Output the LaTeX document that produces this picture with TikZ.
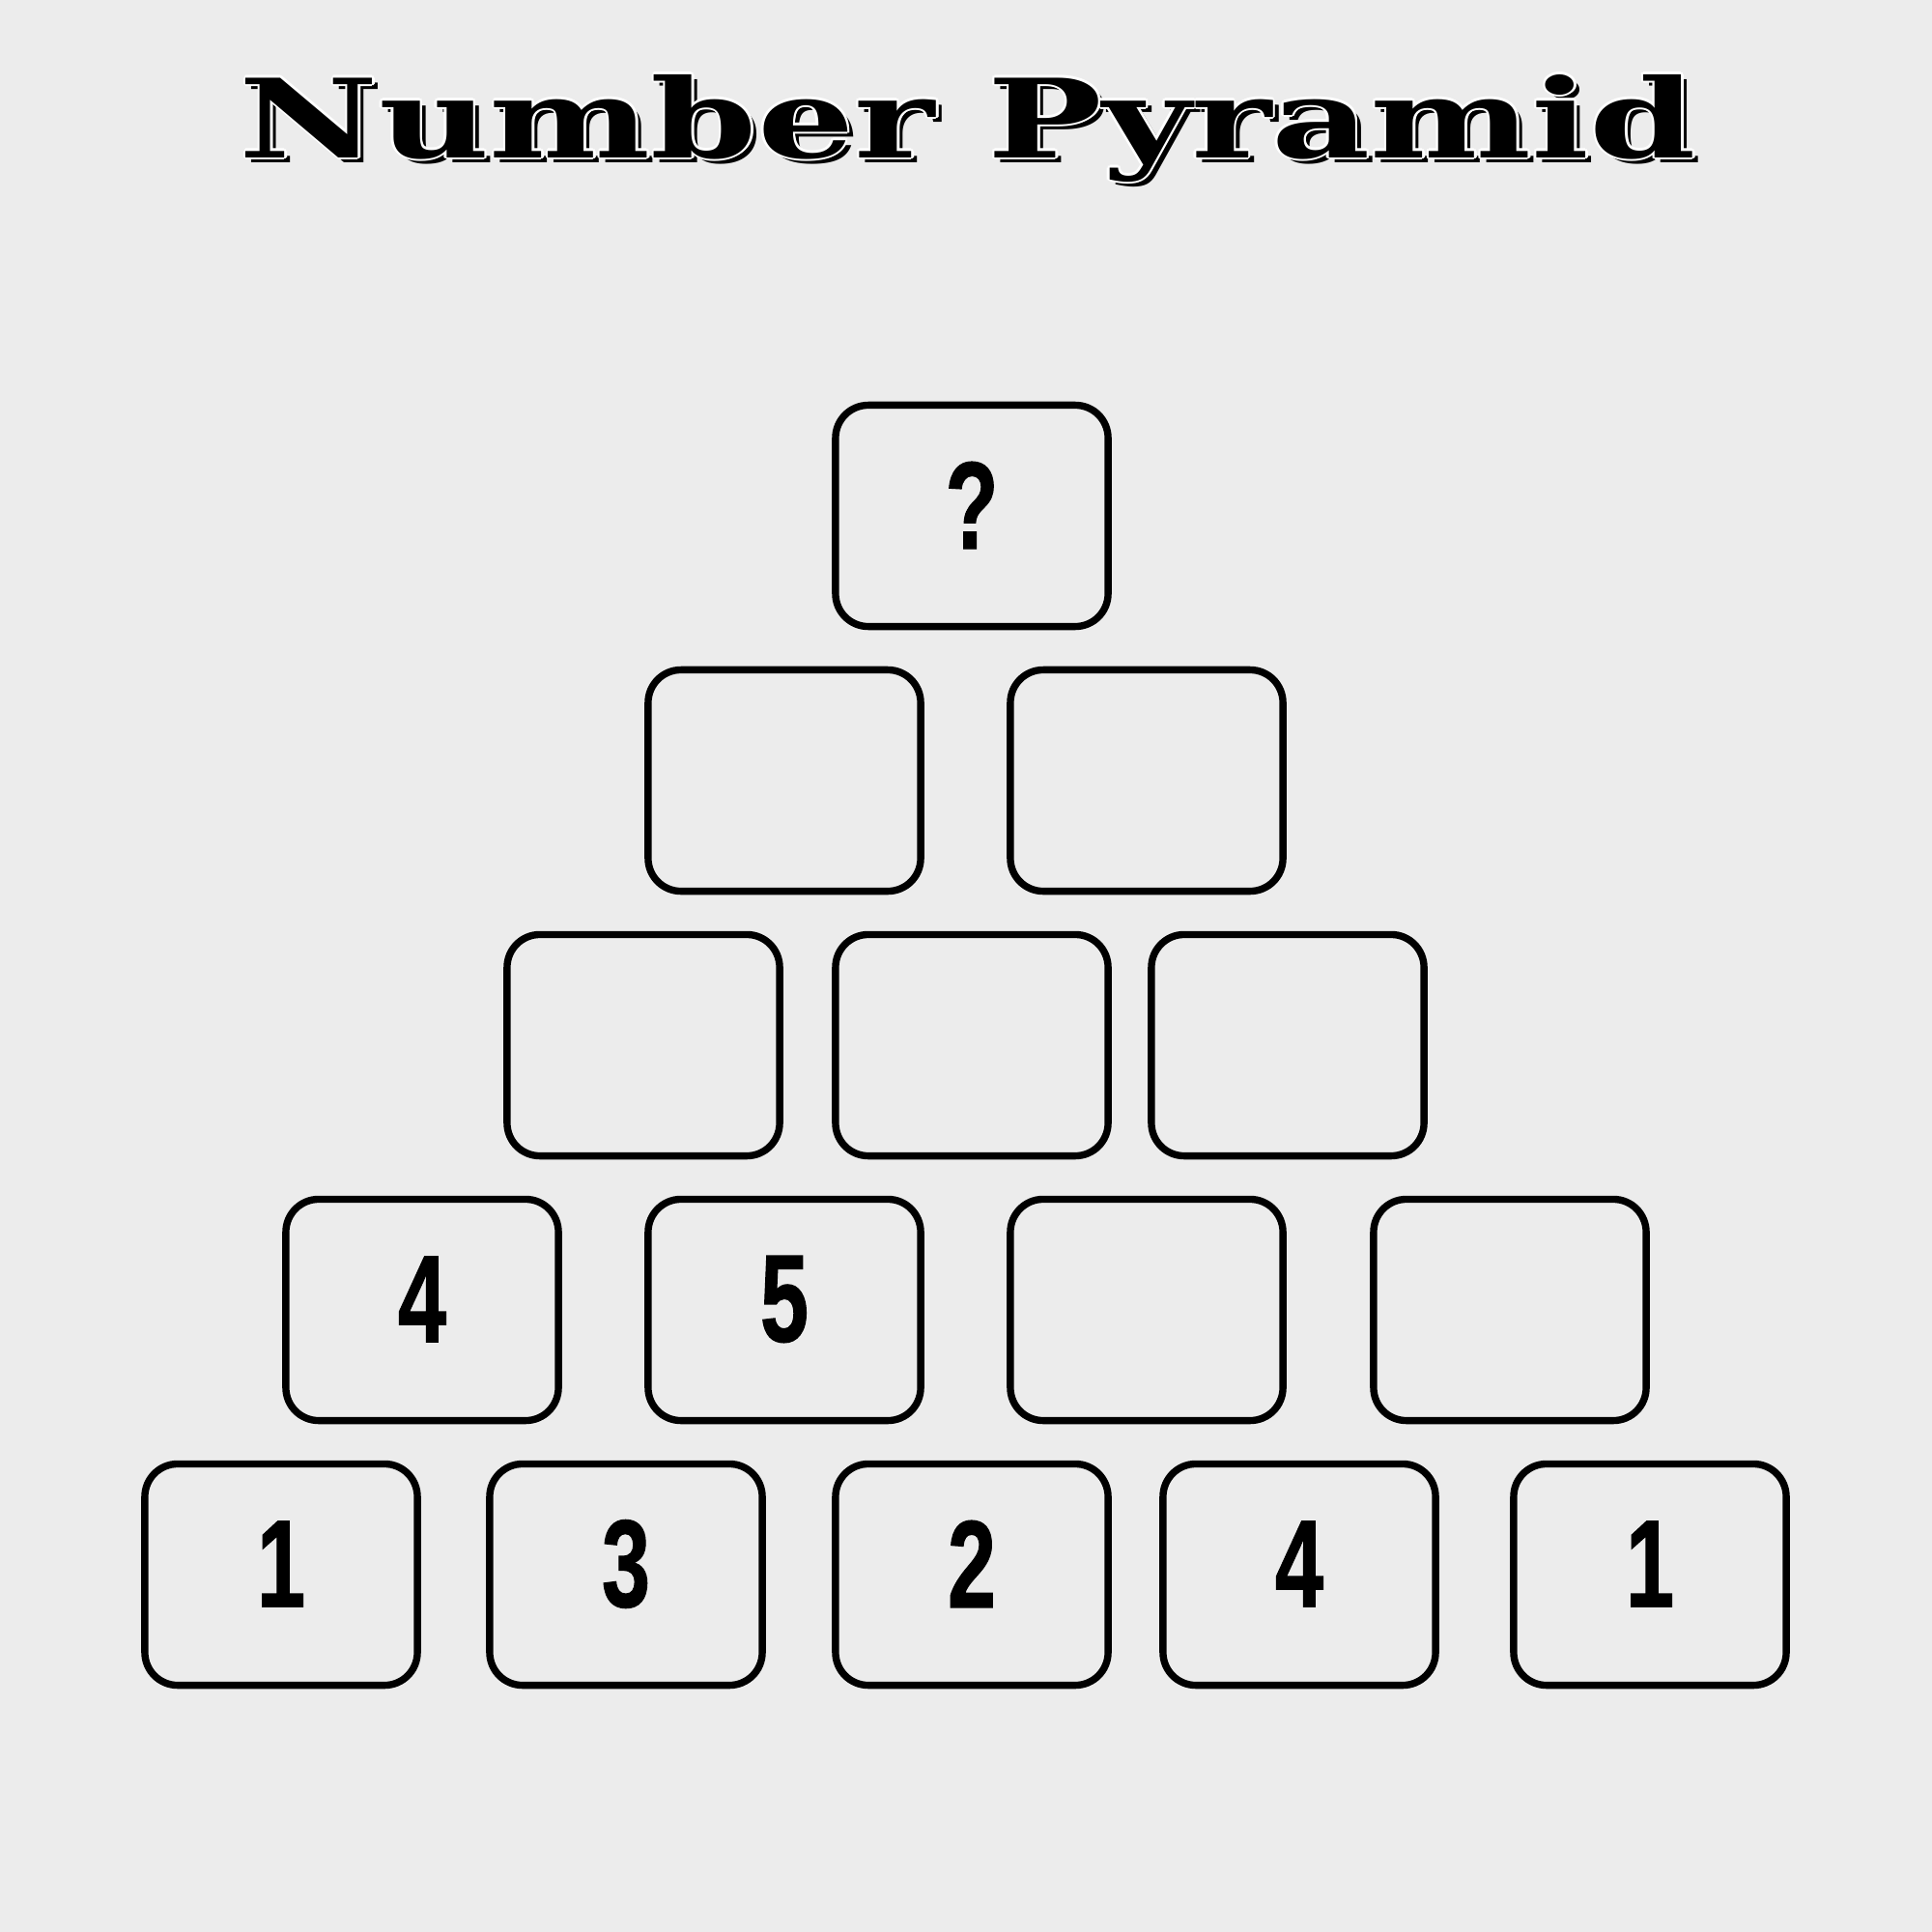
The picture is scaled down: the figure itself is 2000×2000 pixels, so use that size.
\documentclass[tikz,border=0pt]{standalone}
\usepackage{fontspec}
\setmainfont{Liberation Sans}
\newfontfamily\titlefont{DejaVu Serif}
\newfontfamily\numfont{Liberation Sans Bold}[FakeBold=1.2]
\definecolor{paper}{RGB}{236,236,236}
\newcommand\titletext{\resizebox{15.07cm}{0.86cm}{\titlefont\bfseries Number Pyramid}}
\tikzset{
  cell/.style={draw=black, line width=2.1pt, rounded corners=0.34cm,
    minimum width=2.82cm, minimum height=2.29cm, inner sep=0pt},
  num/.style={inner sep=0pt, font=\numfont\fontsize{36.5}{42}\selectfont},
  ttl/.style={inner sep=0pt, anchor=base}
}
\newcommand\cond[1]{\scalebox{0.7}[1]{#1}}
\begin{document}
\begin{tikzpicture}[x=0.01cm,y=-0.01cm]
\useasboundingbox (0,0) rectangle (2000,2000);
\fill[paper] (0,0) rectangle (2000,2000);
% title
\node[ttl, text=black] (tshadow) at (1008,169) {\titletext};
\foreach \dx/\dy in {2.5/0,-2.5/0,0/2.5,0/-2.5,1.8/1.8,-1.8/1.8,1.8/-1.8,-1.8/-1.8}{
  \node[ttl, text=white] at (1002+\dx,163+\dy) {\titletext};
}
\node[ttl, text=black] (title) at (1002,163) {\titletext};
% row 1
\node[cell] (b11) at (1006,534) {};
% row 2
\node[cell] (b21) at (812,808) {};
\node[cell] (b22) at (1187,808) {};
% row 3
\node[cell] (b31) at (666,1082) {};
\node[cell] (b32) at (1006,1082) {};
\node[cell] (b33) at (1333,1082) {};
% row 4
\node[cell] (b41) at (437,1356) {};
\node[cell] (b42) at (812,1356) {};
\node[cell] (b43) at (1187,1356) {};
\node[cell] (b44) at (1563,1356) {};
% row 5
\node[cell] (b51) at (291,1630) {};
\node[cell] (b52) at (648,1630) {};
\node[cell] (b53) at (1006,1630) {};
\node[cell] (b54) at (1345,1630) {};
\node[cell] (b55) at (1708,1630) {};
% numbers
\node[num] (n11) at ([yshift=0.11cm]b11.center) {\cond{?}};
\node[num] (n41) at ([yshift=0.11cm]b41.center) {\cond{4}};
\node[num] (n42) at ([yshift=0.11cm]b42.center) {\cond{5}};
\node[num] (n51) at ([yshift=0.11cm]b51.center) {\cond{1}};
\node[num] (n52) at ([yshift=0.11cm]b52.center) {\cond{3}};
\node[num] (n53) at ([yshift=0.11cm]b53.center) {\cond{2}};
\node[num] (n54) at ([yshift=0.11cm]b54.center) {\cond{4}};
\node[num] (n55) at ([yshift=0.11cm]b55.center) {\cond{1}};
\end{tikzpicture}
\end{document}
